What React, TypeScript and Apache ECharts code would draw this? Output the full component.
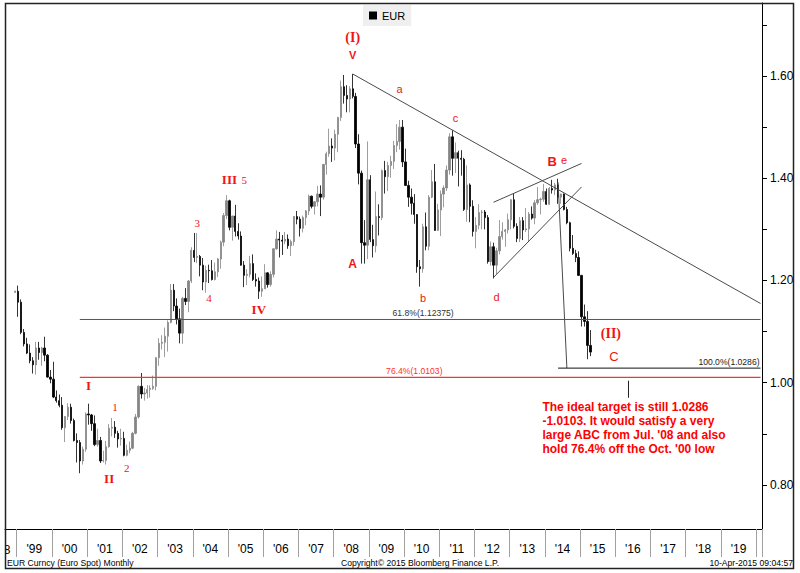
import React, { useEffect, useRef } from "react";
import * as echarts from "echarts";

// ---------- data (monthly EUR candles, first candle = Dec 1998) ----------
const FIRST_CANDLE = [1998, 12];
const OPEN = [
  1.177,
  1.179, 1.1575, 1.0985, 1.076, 1.058, 1.043, 1.035, 1.068, 1.059, 1.068, 1.054, 1.011,
  1.007, 0.972, 0.965, 0.956, 0.912, 0.934, 0.952, 0.926, 0.887, 0.883, 0.847, 0.87,
  0.939, 0.937, 0.92, 0.879, 0.887, 0.847, 0.848, 0.875, 0.911, 0.913, 0.901, 0.89,
  0.891, 0.858, 0.868, 0.872, 0.901, 0.933, 0.993, 0.978, 0.98, 0.987, 0.989, 0.993,
  1.049, 1.077, 1.079, 1.091, 1.118, 1.181, 1.15, 1.125, 1.097, 1.165, 1.159, 1.199,
  1.259, 1.245, 1.247, 1.23, 1.197, 1.22, 1.219, 1.202, 1.217, 1.242, 1.275, 1.327,
  1.356, 1.304, 1.326, 1.296, 1.287, 1.23, 1.21, 1.212, 1.233, 1.202, 1.199, 1.179,
  1.184, 1.215, 1.192, 1.212, 1.262, 1.281, 1.279, 1.277, 1.281, 1.268, 1.276, 1.325,
  1.32, 1.302, 1.323, 1.336, 1.365, 1.345, 1.354, 1.369, 1.363, 1.427, 1.448, 1.463,
  1.459, 1.486, 1.519, 1.579, 1.562, 1.555, 1.575, 1.56, 1.467, 1.41, 1.274, 1.269,
  1.397, 1.28, 1.268, 1.325, 1.323, 1.415, 1.403, 1.425, 1.433, 1.464, 1.472, 1.5,
  1.432, 1.386, 1.363, 1.351, 1.329, 1.227, 1.223, 1.305, 1.267, 1.363, 1.393, 1.298,
  1.338, 1.369, 1.381, 1.416, 1.481, 1.439, 1.45, 1.439, 1.437, 1.339, 1.387, 1.345,
  1.296, 1.308, 1.333, 1.334, 1.323, 1.237, 1.266, 1.23, 1.258, 1.286, 1.296, 1.299,
  1.319, 1.358, 1.306, 1.282, 1.317, 1.299, 1.301, 1.33, 1.322, 1.352, 1.358, 1.359,
  1.374, 1.349, 1.38, 1.377, 1.387, 1.363, 1.369, 1.339, 1.313, 1.263, 1.253, 1.245,
  1.21, 1.129, 1.12, 1.073,
];
const CLOSE = [
  1.179,
  1.1575, 1.0985, 1.076, 1.058, 1.043, 1.035, 1.068, 1.059, 1.068, 1.054, 1.011, 1.007,
  0.972, 0.965, 0.956, 0.912, 0.934, 0.952, 0.926, 0.887, 0.883, 0.847, 0.87, 0.939,
  0.937, 0.92, 0.879, 0.887, 0.847, 0.848, 0.875, 0.911, 0.913, 0.901, 0.89, 0.891,
  0.858, 0.868, 0.872, 0.901, 0.933, 0.993, 0.978, 0.98, 0.987, 0.989, 0.993, 1.049,
  1.077, 1.079, 1.091, 1.118, 1.181, 1.15, 1.125, 1.097, 1.165, 1.159, 1.199, 1.259,
  1.245, 1.247, 1.23, 1.197, 1.22, 1.219, 1.202, 1.217, 1.242, 1.275, 1.327, 1.356,
  1.304, 1.326, 1.296, 1.287, 1.23, 1.21, 1.212, 1.233, 1.202, 1.199, 1.179, 1.184,
  1.215, 1.192, 1.212, 1.262, 1.281, 1.279, 1.277, 1.281, 1.268, 1.276, 1.325, 1.32,
  1.302, 1.323, 1.336, 1.365, 1.345, 1.354, 1.369, 1.363, 1.427, 1.448, 1.463, 1.459,
  1.486, 1.519, 1.579, 1.562, 1.555, 1.575, 1.56, 1.467, 1.41, 1.274, 1.269, 1.397,
  1.28, 1.268, 1.325, 1.323, 1.415, 1.403, 1.425, 1.433, 1.464, 1.472, 1.5, 1.432,
  1.386, 1.363, 1.351, 1.329, 1.227, 1.223, 1.305, 1.267, 1.363, 1.393, 1.298, 1.338,
  1.369, 1.381, 1.416, 1.481, 1.439, 1.45, 1.439, 1.437, 1.339, 1.387, 1.345, 1.296,
  1.308, 1.333, 1.334, 1.323, 1.237, 1.266, 1.23, 1.258, 1.286, 1.296, 1.299, 1.319,
  1.358, 1.306, 1.282, 1.317, 1.299, 1.301, 1.33, 1.322, 1.352, 1.358, 1.359, 1.374,
  1.349, 1.38, 1.377, 1.387, 1.363, 1.369, 1.339, 1.313, 1.263, 1.253, 1.245, 1.21,
  1.129, 1.12, 1.073, 1.06,
];
const LOW = [
  1.1755,
  1.129, 1.095, 1.071, 1.056, 1.038, 1.018, 1.016, 1.045, 1.033, 1.042, 1.01, 0.999,
  0.97, 0.961, 0.952, 0.908, 0.884, 0.927, 0.92, 0.885, 0.844, 0.823, 0.84, 0.865,
  0.918, 0.906, 0.876, 0.875, 0.843, 0.844, 0.84, 0.873, 0.895, 0.892, 0.873, 0.877,
  0.856, 0.856, 0.862, 0.87, 0.899, 0.93, 0.969, 0.965, 0.969, 0.971, 0.986, 0.985,
  1.033, 1.065, 1.05, 1.061, 1.116, 1.14, 1.114, 1.077, 1.076, 1.152, 1.138, 1.195,
  1.236, 1.234, 1.208, 1.181, 1.176, 1.195, 1.2, 1.2, 1.207, 1.223, 1.267, 1.32,
  1.298, 1.278, 1.286, 1.28, 1.229, 1.187, 1.191, 1.206, 1.199, 1.188, 1.164, 1.168,
  1.183, 1.186, 1.188, 1.206, 1.26, 1.245, 1.25, 1.271, 1.262, 1.248, 1.268, 1.31,
  1.286, 1.294, 1.308, 1.328, 1.341, 1.329, 1.345, 1.326, 1.358, 1.407, 1.442, 1.432,
  1.435, 1.451, 1.512, 1.546, 1.529, 1.529, 1.556, 1.459, 1.388, 1.233, 1.233, 1.242,
  1.275, 1.245, 1.255, 1.288, 1.318, 1.37, 1.375, 1.401, 1.418, 1.451, 1.456, 1.422,
  1.385, 1.344, 1.329, 1.311, 1.215, 1.188, 1.215, 1.259, 1.259, 1.361, 1.297, 1.297,
  1.287, 1.343, 1.375, 1.407, 1.405, 1.41, 1.384, 1.405, 1.336, 1.315, 1.314, 1.286,
  1.263, 1.3, 1.3, 1.3, 1.233, 1.229, 1.204, 1.213, 1.251, 1.28, 1.266, 1.292,
  1.3, 1.302, 1.275, 1.275, 1.279, 1.295, 1.275, 1.319, 1.31, 1.348, 1.329, 1.354,
  1.348, 1.348, 1.37, 1.367, 1.35, 1.35, 1.337, 1.31, 1.257, 1.25, 1.236, 1.209,
  1.11, 1.11, 1.046, 1.052,
];
const HIGH = [
  1.18,
  1.19, 1.163, 1.105, 1.088, 1.075, 1.05, 1.08, 1.08, 1.07, 1.09, 1.056, 1.025,
  1.041, 0.985, 0.977, 0.972, 0.935, 0.96, 0.959, 0.93, 0.901, 0.888, 0.875, 0.942,
  0.959, 0.939, 0.936, 0.91, 0.894, 0.867, 0.886, 0.919, 0.931, 0.925, 0.906, 0.91,
  0.904, 0.879, 0.885, 0.904, 0.939, 0.995, 1.019, 0.99, 0.995, 0.995, 1.014, 1.05,
  1.087, 1.093, 1.108, 1.122, 1.193, 1.193, 1.165, 1.145, 1.168, 1.185, 1.201, 1.265,
  1.293, 1.293, 1.25, 1.244, 1.229, 1.231, 1.24, 1.235, 1.244, 1.278, 1.332, 1.367,
  1.358, 1.327, 1.348, 1.312, 1.296, 1.238, 1.222, 1.248, 1.251, 1.214, 1.206, 1.208,
  1.232, 1.216, 1.218, 1.263, 1.298, 1.295, 1.289, 1.295, 1.29, 1.28, 1.326, 1.336,
  1.325, 1.327, 1.338, 1.368, 1.366, 1.355, 1.385, 1.386, 1.428, 1.452, 1.497, 1.478,
  1.495, 1.52, 1.591, 1.602, 1.582, 1.58, 1.604, 1.567, 1.486, 1.415, 1.318, 1.472,
  1.406, 1.309, 1.374, 1.349, 1.417, 1.434, 1.432, 1.444, 1.473, 1.506, 1.514, 1.514,
  1.458, 1.395, 1.38, 1.369, 1.33, 1.24, 1.311, 1.333, 1.367, 1.416, 1.428, 1.35,
  1.376, 1.386, 1.425, 1.488, 1.494, 1.47, 1.454, 1.455, 1.44, 1.425, 1.39, 1.357,
  1.324, 1.349, 1.338, 1.338, 1.328, 1.276, 1.274, 1.264, 1.318, 1.314, 1.301, 1.331,
  1.359, 1.371, 1.312, 1.324, 1.324, 1.342, 1.334, 1.345, 1.357, 1.383, 1.362, 1.389,
  1.38, 1.383, 1.397, 1.391, 1.399, 1.37, 1.37, 1.344, 1.315, 1.289, 1.26, 1.257,
  1.211, 1.153, 1.14, 1.103,
];

// axis range (months shown) and value scale
const AXIS_FIRST = [1998, 9];
const AXIS_LAST = [2020, 2];
const Y_MIN = 0.7139;
const Y_MAX = 1.7428;
const Y_LABEL_VALUES = [0.8, 1.0, 1.2, 1.4, 1.6];
const Y_TICK_VALUES = [0.8, 0.9, 1.0, 1.1, 1.2, 1.3, 1.4, 1.5, 1.6, 1.7];

// drawn analysis lines: [month, value] pairs
const TREND_LINES = [
  { points: [["2008-07", 1.604], ["2020-02", 1.155]], color: "#4a4a4a", width: 1 },
  { points: [["2012-07", 1.353], ["2015-01", 1.429]], color: "#4a4a4a", width: 1 },
  { points: [["2012-07", 1.206], ["2015-01", 1.383]], color: "#4a4a4a", width: 1 },
  { points: [["2014-05", 1.392], ["2014-08", 1.0286]], color: "#4a4a4a", width: 1 },
  { points: [["2014-05", 1.0286], ["2020-02", 1.0286]], color: "#111111", width: 1 },
  { points: [["2000-10", 1.12375], ["2020-02", 1.12375]], color: "#555555", width: 1 },
  { points: [["2000-10", 1.0103], ["2020-02", 1.0103]], color: "#ff3030", width: 1.25 },
  { points: [["2016-05", 1.004], ["2016-05", 0.9706]], color: "#222222", width: 1 },
];

const RED = "#f01414";
const F_ROMAN = 'bold 13px "Liberation Serif", serif';
const F_WAVE = 'bold 12px "Liberation Sans", sans-serif';
const F_SMALL = '11px "Liberation Sans", sans-serif';
const F_DIGIT = '11px "Liberation Serif", serif';
const F_LEVEL = '8.6px "Liberation Sans", sans-serif';

const WAVE_LABELS = [
  { text: "(I)", at: ["2008-07", 1.676], font: 'bold 14px "Liberation Serif", serif' },
  { text: "V", at: ["2008-07", 1.641], font: 'bold 11px "Liberation Sans", sans-serif' },
  { text: "a", at: ["2009-11", 1.575], font: F_SMALL },
  { text: "c", at: ["2011-06", 1.518], font: F_SMALL },
  { text: "B", at: ["2014-03", 1.432], font: 'bold 13px "Liberation Sans", sans-serif' },
  { text: "e", at: ["2014-07", 1.436], font: F_SMALL },
  { text: "A", at: ["2008-07", 1.232], font: F_WAVE },
  { text: "b", at: ["2010-07", 1.166], font: F_SMALL },
  { text: "d", at: ["2012-08", 1.168], font: F_SMALL },
  { text: "(II)", at: ["2015-11", 1.097], font: 'bold 14px "Liberation Serif", serif' },
  { text: "C", at: ["2015-12", 1.052], font: '13px "Liberation Sans", sans-serif' },
  { text: "III", at: ["2005-01", 1.3966], font: F_ROMAN },
  { text: "5", at: ["2005-06", 1.3966], font: F_DIGIT },
  { text: "3", at: ["2004-02", 1.312], font: F_DIGIT },
  { text: "4", at: ["2004-06", 1.1664], font: F_DIGIT },
  { text: "IV", at: ["2005-11", 1.1437], font: F_ROMAN },
  { text: "I", at: ["2001-01", 0.9937], font: F_ROMAN },
  { text: "1", at: ["2001-10", 0.9532], font: F_DIGIT },
  { text: "2", at: ["2002-02", 0.8339], font: F_DIGIT },
  { text: "II", at: ["2001-08", 0.8118], font: F_ROMAN },
];

const LEVEL_LABELS = [
  { text: "61.8%(1.12375)", at: ["2010-07", 1.12375], color: "#333333", align: "center" },
  { text: "76.4%(1.0103)", at: ["2010-04", 1.0103], color: "#ff3030", align: "center" },
  { text: "100.0%(1.0286)", at: ["2020-02", 1.0286], color: "#222222", align: "right" },
];

const NOTE_LINES = [
  "The ideal target is still 1.0286",
  "-1.0103. It would satisfy a very",
  "large ABC from Jul. '08 and also",
  "hold 76.4% off the Oct. '00 low",
];
const NOTE_AT = ["2013-12", 0.9663];

const FOOTER_LEFT = "EUR Curncy (Euro Spot) Monthly";
const FOOTER_MID = "Copyright\u00a9 2015 Bloomberg Finance L.P.";
const FOOTER_RIGHT = "10-Apr-2015 09:04:57";

// ---------- helpers ----------
function monthList(y0: number, m0: number, y1: number, m1: number): string[] {
  const out: string[] = [];
  let y = y0, m = m0;
  while (y < y1 || (y === y1 && m <= m1)) {
    out.push(`${y}-${String(m).padStart(2, "0")}`);
    m++;
    if (m > 12) { m = 1; y++; }
  }
  return out;
}

const CATEGORIES = monthList(AXIS_FIRST[0], AXIS_FIRST[1], AXIS_LAST[0], AXIS_LAST[1]);
const CANDLE_MONTHS = monthList(FIRST_CANDLE[0], FIRST_CANDLE[1], 2100, 1).slice(0, OPEN.length);

const AXIS_FONT = '"Liberation Sans", Arial, sans-serif';

export default function App() {
  const ref = useRef<HTMLDivElement>(null);

  useEffect(() => {
    document.body.style.margin = "0";
    const el = ref.current!;
    const chart = echarts.init(el, null, { renderer: "svg" });

    const candleData = CANDLE_MONTHS.map((m, i) => [m, OPEN[i], CLOSE[i], LOW[i], HIGH[i]]);

    const lineSeries = TREND_LINES.map((l) => ({
      type: "line",
      data: l.points,
      symbol: "none",
      silent: true,
      z: 4,
      itemStyle: { color: l.color },
      lineStyle: { color: l.color, width: l.width },
    }));

    chart.setOption({
      animation: false,
      grid: { left: 5, right: 38, top: 3, bottom: 44, containLabel: false },
      legend: {
        left: 363,
        top: 5,
        selectedMode: false,
        backgroundColor: "#efefef",
        padding: [5, 6, 5, 6],
        itemWidth: 8,
        itemHeight: 8,
        textStyle: { fontSize: 11, color: "#000", fontFamily: AXIS_FONT },
        data: [{ name: "EUR", icon: "rect", itemStyle: { color: "#000", borderWidth: 0 } }],
      },
      xAxis: {
        type: "category",
        data: CATEGORIES,
        boundaryGap: true,
        axisLine: { show: true, lineStyle: { color: "#000", width: 1 } },
        axisTick: {
          show: true,
          interval: (_i: number, v: string) => v.endsWith("-01"),
          length: 28,
          lineStyle: { color: "#a0a0a0" },
        },
        axisLabel: {
          interval: (_i: number, v: string) => v.endsWith("-07"),
          formatter: (v: string) => "'" + v.slice(2, 4),
          margin: 14,
          fontSize: 12,
          color: "#000",
          fontFamily: AXIS_FONT,
          padding: [0, 3, 0, 0],
        },
        splitLine: { show: false },
      },
      yAxis: {
        type: "value",
        position: "right",
        min: Y_MIN,
        max: Y_MAX,
        axisLine: { show: true, lineStyle: { color: "#000", width: 1 } },
        axisTick: { show: true, length: 5, customValues: Y_TICK_VALUES, lineStyle: { color: "#000" } },
        axisLabel: {
          customValues: Y_LABEL_VALUES,
          formatter: (v: number) => v.toFixed(2),
          margin: 8,
          fontSize: 12,
          color: "#000",
          fontFamily: AXIS_FONT,
        },
        splitLine: { show: false },
      },
      series: [
        {
          name: "EUR",
          type: "candlestick",
          data: candleData,
          encode: { x: 0, y: [1, 2, 3, 4] },
          barWidth: 1.8,
          silent: true,
          itemStyle: {
            color: "#858585",
            color0: "#000000",
            borderColor: "#858585",
            borderColor0: "#000000",
            borderWidth: 0.8,
          },
        },
        ...lineSeries,
      ],
    });

    const px = (at: any[]) =>
      chart.convertToPixel({ gridIndex: 0 }, [CATEGORIES.indexOf(at[0]), at[1]]) as number[];

    const graphics: any[] = [];
    WAVE_LABELS.forEach((a) => {
      const p = px(a.at);
      graphics.push({
        type: "text", x: p[0], y: p[1], silent: true, z: 50,
        style: { text: a.text, font: a.font, fill: RED, align: "center", verticalAlign: "middle" },
      });
    });
    LEVEL_LABELS.forEach((a) => {
      const p = px(a.at);
      graphics.push({
        type: "text", x: p[0] - (a.align === "right" ? 1 : 0), y: p[1] - 1.5, silent: true, z: 50,
        style: { text: a.text, font: F_LEVEL, fill: a.color, align: a.align, verticalAlign: "bottom" },
      });
    });
    const np = px(NOTE_AT);
    graphics.push({
      type: "text", x: np[0] - 1, y: np[1], silent: true, z: 50,
      style: {
        text: NOTE_LINES.join("\n"),
        font: 'bold 12px "Liberation Sans", Arial, sans-serif',
        fill: "#ff0000",
        align: "left",
        verticalAlign: "top",
        lineHeight: 14,
      },
    });
    // partial '98 label at the left edge, masked by the frame
    graphics.push({
      type: "text", x: 10.5, y: 550, silent: true, z: 40,
      style: { text: "'98", font: '12px "Liberation Sans", Arial, sans-serif', fill: "#000", align: "right", verticalAlign: "middle" },
    });
    graphics.push({ type: "rect", silent: true, z: 45, shape: { x: 0, y: 530, width: 5.5, height: 30 }, style: { fill: "#fff" } });
    // frame
    graphics.push({
      type: "rect", silent: true, z: 60,
      shape: { x: 5.5, y: 3.5, width: 788, height: 565 },
      style: { fill: "none", stroke: "#222", lineWidth: 1.5 },
    });
    // footer
    graphics.push({
      type: "text", x: 7, y: 563, silent: true, z: 50,
      style: { text: FOOTER_LEFT, font: '8.6px "Liberation Sans", sans-serif', fill: "#000", align: "left", verticalAlign: "middle" },
    });
    graphics.push({
      type: "text", x: 420, y: 563, silent: true, z: 50,
      style: { text: FOOTER_MID, font: '8.6px "Liberation Sans", sans-serif', fill: "#000", align: "center", verticalAlign: "middle" },
    });
    graphics.push({
      type: "text", x: 793, y: 563, silent: true, z: 50,
      style: { text: FOOTER_RIGHT, font: '8.6px "Liberation Sans", sans-serif', fill: "#000", align: "right", verticalAlign: "middle" },
    });

    chart.setOption({ graphic: graphics });

    return () => chart.dispose();
  }, []);

  return (
    <div
      ref={ref}
      style={{ position: "fixed", left: 0, top: 0, width: 800, height: 573, background: "#fff" }}
    />
  );
}
